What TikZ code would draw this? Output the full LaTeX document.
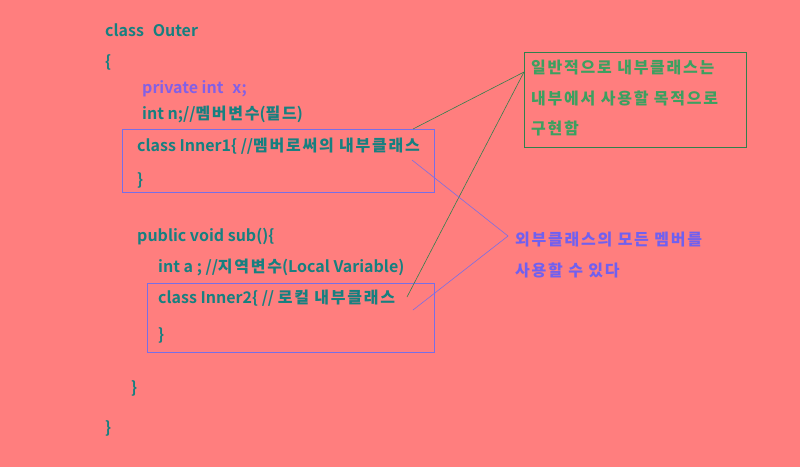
\documentclass[tikz,border=0pt]{standalone}
\usepackage{fontspec}
\setmainfont{Noto Sans CJK KR}[BoldFont={Noto Sans CJK KR Bold}]
\newfontfamily\krfont{Noto Sans CJK KR Bold}[LetterSpace=11]
\newcommand{\K}[1]{{\krfont #1}}
\definecolor{bg}{RGB}{255,126,126}
\definecolor{code}{RGB}{22,128,128}
\definecolor{priv}{RGB}{130,96,230}
\definecolor{note1}{RGB}{60,160,96}
\definecolor{note2}{RGB}{112,96,240}
\definecolor{boxb}{RGB}{120,110,230}
\begin{document}
\begin{tikzpicture}[x=1pt,y=-1pt,
  codetxt/.style={anchor=west,inner sep=0pt,font=\fontsize{16}{19}\selectfont\bfseries,text=code},
  privtxt/.style={codetxt,text=priv},
  notegreen/.style={codetxt,text=note1},
  noteblue/.style={codetxt,text=note2},
  codebox/.style={draw=boxb,line width=0.8pt},
  greenbox/.style={draw=note1!80!black,line width=0.8pt},
  gline/.style={draw=note1!80!black,line width=0.6pt},
  bline/.style={draw=boxb,line width=0.6pt}]
\fill[bg] (0,0) rectangle (800,467);
\useasboundingbox (0,0) rectangle (800,467);
% boxes
\draw[codebox] (122,129) rectangle (434,192);
\draw[codebox] (147,283) rectangle (434,352);
\draw[greenbox] (524,52) rectangle (746,147);
% code text
\node[codetxt] (t1) at (105,30) {class\hspace{0.55em}Outer};
\node[codetxt] (t2) at (105,62) {\{};
\node[privtxt] (t3) at (142,89) {private int\hspace{0.55em}x;};
\node[codetxt] (t4) at (142,114) {int n;//\K{멤버변수}(\K{필드})};
\node[codetxt] (t5) at (137,146) {class Inner1\{ //\K{멤버로써의 내부클래스}};
\node[codetxt] (t6) at (137,180) {\}};
\node[codetxt] (t7) at (137,237) {public void sub()\{};
\node[codetxt] (t8) at (158,267) {int a ; //\K{지역변수}(Local Variable)};
\node[codetxt] (t9) at (158,298) {class Inner2\{ // \K{로컬 내부클래스}};
\node[codetxt] (t10) at (158,335) {\}};
\node[codetxt] (t11) at (131,388) {\}};
\node[codetxt] (t12) at (105,428) {\}};
% notes
\node[notegreen] (n1) at (531,68) {\K{일반적으로 내부클래스는}};
\node[notegreen] (n2) at (531,98) {\K{내부에서 사용할 목적으로}};
\node[notegreen] (n3) at (531,128) {\K{구현함}};
\node[noteblue] (m1) at (515,240) {\K{외부클래스의 모든 멤버를}};
\node[noteblue] (m2) at (515,270) {\K{사용할 수 있다}};
% connector points
\coordinate (gp) at (524,72);
\coordinate (g1) at (413,129);
\coordinate (g2) at (407,297);
\coordinate (bp) at (508,236);
\coordinate (b1) at (412,160);
\coordinate (b2) at (413,310);
\draw[gline] (g1) -- (gp) -- (g2);
\draw[bline] (b1) -- (bp) -- (b2);
\end{tikzpicture}
\end{document}
